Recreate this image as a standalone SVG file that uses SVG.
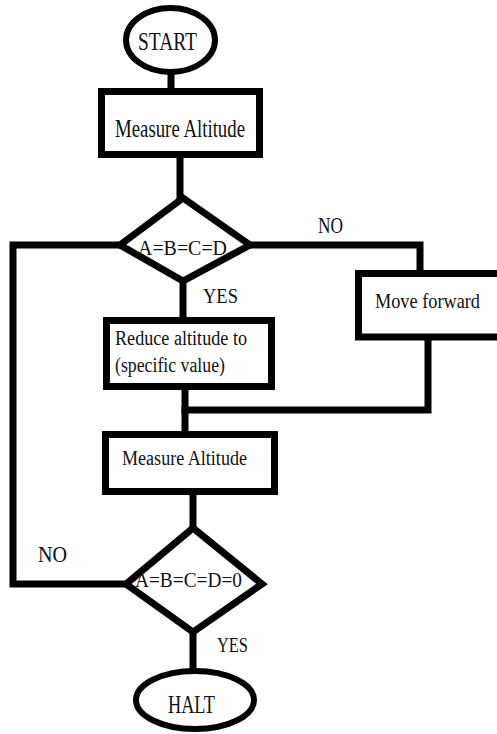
<svg xmlns="http://www.w3.org/2000/svg" width="497" height="734" viewBox="0 0 497 734">
<style>
.shape{fill:#fff;stroke:#000;stroke-width:7;stroke-linejoin:miter}
.term{fill:#fff;stroke:#000;stroke-width:6}
.conn{fill:none;stroke:#000;stroke-width:7;stroke-linejoin:miter;stroke-linecap:square}
.t{font-family:'Liberation Serif','Times New Roman',Times,serif;fill:#111}
</style>
<rect width="497" height="734" fill="#fff"/>
<g id="connectors">
<path class="conn" d="M171 75 V88"/>
<path class="conn" d="M180 158 V198"/>
<path class="conn" d="M120 245 H13 V584 H126"/>
<path class="conn" d="M250 245 H420 V273"/>
<path class="conn" d="M183 281 V320"/>
<path class="conn" d="M428 337 V410 H185"/>
<path class="conn" d="M185 387 V434"/>
<path class="conn" d="M193 492 V528"/>
<path class="conn" d="M193 632 V670"/>
</g>
<g id="start">
<ellipse class="term" cx="170.5" cy="40" rx="44.5" ry="32"/>
<text class="t" x="138" y="50" font-size="26" textLength="59" lengthAdjust="spacingAndGlyphs">START</text>
</g>
<g id="measure1">
<rect class="shape" x="101.5" y="91.5" width="158" height="63"/>
<text class="t" x="115" y="137" font-size="26" textLength="130" lengthAdjust="spacingAndGlyphs">Measure Altitude</text>
</g>
<g id="decision1">
<polygon class="shape" stroke-width="8" points="183,198 250,245 183,281 120,245"/>
<text class="t" x="138" y="255" font-size="22" textLength="89" lengthAdjust="spacingAndGlyphs">A=B=C=D</text>
</g>
<g id="labels">
<text class="t" x="318" y="233" font-size="23" textLength="25" lengthAdjust="spacingAndGlyphs">NO</text>
<text class="t" x="203" y="303" font-size="20" textLength="35" lengthAdjust="spacingAndGlyphs">YES</text>
<text class="t" x="38" y="562" font-size="23" textLength="29" lengthAdjust="spacingAndGlyphs">NO</text>
<text class="t" x="217" y="652" font-size="20" textLength="31" lengthAdjust="spacingAndGlyphs">YES</text>
</g>
<g id="move">
<rect class="shape" x="358.5" y="273.5" width="150" height="63.5"/>
<text class="t" x="375" y="308" font-size="22" textLength="105" lengthAdjust="spacingAndGlyphs">Move forward</text>
</g>
<g id="reduce">
<rect class="shape" x="106.5" y="320.5" width="165" height="66"/>
<text class="t" x="115" y="345" font-size="20" textLength="132" lengthAdjust="spacingAndGlyphs">Reduce altitude to</text>
<text class="t" x="115" y="372" font-size="20" textLength="110" lengthAdjust="spacingAndGlyphs">(specific value)</text>
</g>
<g id="measure2">
<rect class="shape" x="105.5" y="434.5" width="169" height="57"/>
<text class="t" x="122" y="465" font-size="20" textLength="125" lengthAdjust="spacingAndGlyphs">Measure Altitude</text>
</g>
<g id="decision2">
<polygon class="shape" stroke-width="8" points="193,528 262,584 193,632 126,584"/>
<text class="t" x="135" y="587" font-size="22" textLength="107" lengthAdjust="spacingAndGlyphs">A=B=C=D=0</text>
</g>
<g id="halt">
<ellipse class="term" cx="195" cy="700" rx="59" ry="29"/>
<text class="t" x="168" y="713" font-size="26" textLength="47" lengthAdjust="spacingAndGlyphs">HALT</text>
</g>
</svg>
